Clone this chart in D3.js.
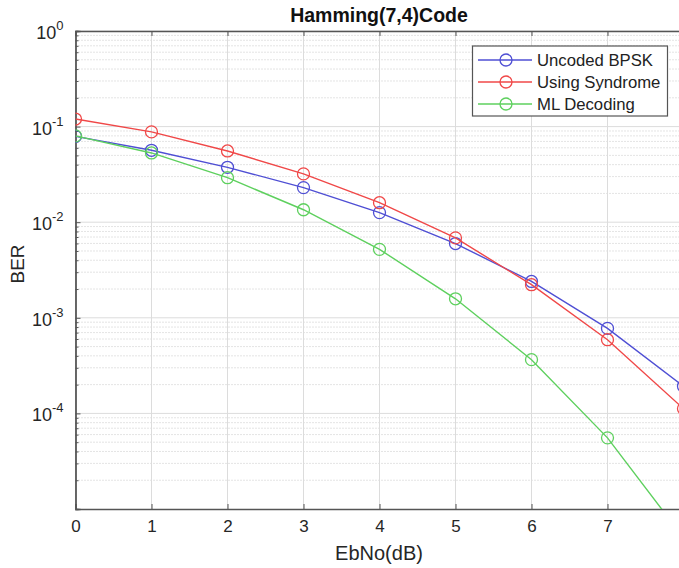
<!DOCTYPE html>
<html><head><meta charset="utf-8">
<script src="https://cdn.jsdelivr.net/npm/d3@7"></script>
<style>body{margin:0;background:#fff;} svg{display:block;font-family:"Liberation Sans",Arial,sans-serif;}</style>
</head><body>
<svg id="c" width="679" height="568"></svg>
<script>
const ebno = [0,1,2,3,4,5,6,7,8];
const uncoded = [0.0790, 0.0565, 0.0375, 0.0230, 0.0126, 0.00598, 0.00240, 0.000775, 0.000192];
const syndrome = [0.120, 0.088, 0.0556, 0.0320, 0.0160, 0.00685, 0.00222, 0.000590, 0.000112];
const mlDecoding = [0.0800, 0.0530, 0.0292, 0.0135, 0.00520, 0.00158, 0.000365, 0.0000555, 0.0000050];
const seriesNames = ["Uncoded BPSK","Using Syndrome","ML Decoding"];
const seriesColors = ["#4f4fd4","#f04848","#5ed05e"];
const xTicks = [0,1,2,3,4,5,6,7,8];
const yTicks = [1,1e-1,1e-2,1e-3,1e-4];
const yExp = [0,-1,-2,-3,-4];

const svg = d3.select("#c");
const L=75.5, T=31, R=683.5, B=509;
const x = d3.scaleLinear().domain([0,8]).range([L,R]);
const y = d3.scaleLog().domain([1e-5,1]).range([B,T]);

svg.append("defs").append("clipPath").attr("id","clip")
  .append("rect").attr("x",L).attr("y",T).attr("width",R-L).attr("height",B-T);

const g = svg.append("g");
const minors=[];
for(let e=-5;e<0;e++) for(let m=2;m<=9;m++) minors.push(m*Math.pow(10,e));
g.selectAll(".mn").data(minors).enter().append("line")
  .attr("x1",L).attr("x2",R).attr("y1",d=>y(d)).attr("y2",d=>y(d))
  .attr("stroke","#c8c8c8").attr("stroke-width",1).attr("stroke-dasharray","1,2");
g.selectAll(".mjy").data(yTicks).enter().append("line")
  .attr("x1",L).attr("x2",R).attr("y1",d=>y(d)).attr("y2",d=>y(d))
  .attr("stroke","#dcdcdc").attr("stroke-width",1);
g.selectAll(".mjx").data(xTicks).enter().append("line")
  .attr("x1",d=>x(d)).attr("x2",d=>x(d)).attr("y1",T).attr("y2",B)
  .attr("stroke","#dcdcdc").attr("stroke-width",1);

const axB = d3.axisBottom(x).tickValues(xTicks).tickSize(-5).tickPadding(11).tickFormat(d3.format("d"));
const gb = svg.append("g").attr("transform",`translate(0,${B})`).call(axB);
const axT = d3.axisTop(x).tickValues(xTicks).tickSize(-5).tickFormat("");
const gt = svg.append("g").attr("transform",`translate(0,${T})`).call(axT);
const axL = d3.axisLeft(y).tickValues(yTicks).tickSize(-5).tickFormat("");
const gl = svg.append("g").attr("transform",`translate(${L},0)`).call(axL);
const axLm = d3.axisLeft(y).tickValues(minors).tickSize(-3).tickFormat("");
const glm = svg.append("g").attr("transform",`translate(${L},0)`).call(axLm);
[gb,gt,gl,glm].forEach(a=>{
  a.selectAll(".domain").attr("stroke","#555").attr("stroke-width",1.3);
  a.selectAll(".tick line").attr("stroke","#555");
});
gb.selectAll("text").attr("font-size",17).attr("fill","#262626")
  .attr("font-family","Liberation Sans, Arial, sans-serif");
const yl = svg.append("g");
yTicks.forEach((v,i)=>{
  const t = yl.append("text").attr("x",L-12).attr("y",y(v)+8).attr("text-anchor","end")
    .attr("font-size",18).attr("fill","#262626");
  t.append("tspan").text("10");
  t.append("tspan").attr("font-size",13).attr("dy",-9).text(String(yExp[i]));
});

const line = d3.line().x((d,i)=>x(ebno[i])).y(d=>y(d));
const all=[uncoded,syndrome,mlDecoding];
const pg = svg.append("g").attr("clip-path","url(#clip)");
all.forEach((s,k)=>{
  pg.append("path").datum(s).attr("d",line).attr("fill","none")
    .attr("stroke",seriesColors[k]).attr("stroke-width",1.4);
  pg.selectAll(null).data(s).enter().append("circle")
    .attr("cx",(d,i)=>x(ebno[i])).attr("cy",d=>y(d)).attr("r",6)
    .attr("fill","none").attr("stroke",seriesColors[k]).attr("stroke-width",1.3);
});

svg.append("text").attr("x",379).attr("y",22).attr("text-anchor","middle")
  .attr("font-size",19.5).attr("font-weight","bold").attr("fill","#111").text("Hamming(7,4)Code");
svg.append("text").attr("x",379).attr("y",560).attr("text-anchor","middle")
  .attr("font-size",20).attr("fill","#262626").text("EbNo(dB)");
svg.append("text").attr("transform","translate(24,264) rotate(-90)").attr("text-anchor","middle")
  .attr("font-size",19).attr("fill","#262626").text("BER");

const lg = svg.append("g");
lg.append("rect").attr("x",472.5).attr("y",46).attr("width",195).attr("height",70)
  .attr("fill","#fff").attr("stroke","#555").attr("stroke-width",1.2);
seriesNames.forEach((n,k)=>{
  const yy = 60 + k*22;
  lg.append("line").attr("x1",478).attr("x2",532).attr("y1",yy).attr("y2",yy)
    .attr("stroke",seriesColors[k]).attr("stroke-width",1.4);
  lg.append("circle").attr("cx",506).attr("cy",yy).attr("r",6).attr("fill","none")
    .attr("stroke",seriesColors[k]).attr("stroke-width",1.3);
  lg.append("text").attr("x",537).attr("y",yy+6).attr("font-size",16.7).attr("fill","#222").text(n);
});
</script>
</body></html>
